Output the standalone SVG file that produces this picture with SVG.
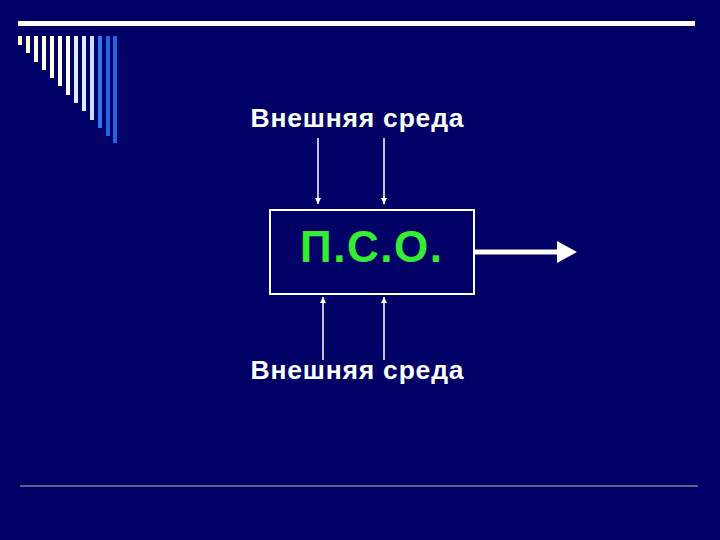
<svg xmlns="http://www.w3.org/2000/svg" width="720" height="540" viewBox="0 0 720 540">
<defs>
<style>
.t{font-family:"Liberation Sans",Arial,sans-serif;fill:#fff;font-size:26.5px;font-weight:bold;text-anchor:middle}
.c{stroke:#fff;stroke-width:1.5;fill:none}
</style>
<marker id="a" viewBox="0 0 10 10" refX="10" refY="5" markerWidth="6" markerHeight="6" orient="auto" markerUnits="userSpaceOnUse"><path d="M0,0L10,5L0,10z" fill="#fff"/></marker>
</defs>
<rect width="720" height="540" fill="#000066"/>
<g id="decor">
<rect x="18" y="21" width="677" height="5" fill="#fff"/>
<rect x="18" y="36" width="4" height="9" fill="#ffffcc"/>
<rect x="26" y="36" width="4" height="17" fill="#ffffcc"/>
<rect x="34" y="36" width="4" height="26" fill="#ffffdd"/>
<rect x="42" y="36" width="4" height="34" fill="#ffffdd"/>
<rect x="50" y="36" width="4" height="42" fill="#ffffdd"/>
<rect x="58" y="36" width="4" height="50" fill="#ffffee"/>
<rect x="66" y="36" width="4" height="59" fill="#ffffee"/>
<rect x="74" y="36" width="4" height="67" fill="#ddeeff"/>
<rect x="82" y="36" width="4" height="75" fill="#ddeeff"/>
<rect x="90" y="36" width="4" height="84" fill="#ccddff"/>
<rect x="98" y="36" width="4" height="92" fill="#3377ee"/>
<rect x="106" y="36" width="4" height="100" fill="#2266dd"/>
<rect x="113" y="36" width="4" height="107" fill="#2266dd"/>
<line x1="20" y1="486" x2="698" y2="486" stroke="#bbbbbb" stroke-width="1"/>
</g>
<g id="top"><text class="t" x="357" y="127" textLength="213">Внешняя среда</text></g>
<g id="bottom"><text class="t" x="357" y="379" textLength="213">Внешняя среда</text></g>
<g id="pso">
<rect x="270" y="210" width="204" height="84" fill="none" stroke="#fff" stroke-width="2"/>
<text x="371" y="262" font-family="Liberation Sans,Arial,sans-serif" font-size="44" font-weight="bold" fill="#33ee33" text-anchor="middle" textLength="142">П.С.О.</text>
</g>
<g id="connectors">
<line class="c" x1="318" y1="138" x2="318" y2="204" marker-end="url(#a)"/>
<line class="c" x1="384" y1="138" x2="384" y2="204" marker-end="url(#a)"/>
<line class="c" x1="323" y1="360" x2="323" y2="297" marker-end="url(#a)"/>
<line class="c" x1="384" y1="360" x2="384" y2="297" marker-end="url(#a)"/>
<line x1="475" y1="252" x2="560" y2="252" stroke="#fff" stroke-width="5"/>
<path d="M557,241L577,252L557,263z" fill="#fff"/>
</g>
</svg>
